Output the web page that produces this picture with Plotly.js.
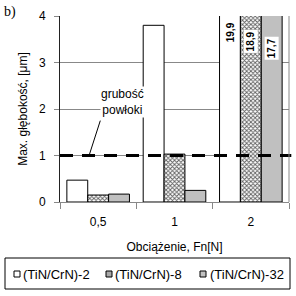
<!DOCTYPE html>
<html><head><meta charset="utf-8">
<script src="https://cdn.plot.ly/plotly-3.0.1.min.js"></script>
<style>html,body{margin:0;padding:0;background:#fff}#c{width:296px;height:296px}</style>
</head><body><div id="c"></div>
<script>
const categories = ['0,5', '1', '2'];
const seriesNames = ['(TiN/CrN)-2', '(TiN/CrN)-8', '(TiN/CrN)-32'];
const s2 = [0.47, 3.8, 19.9];
const s8 = [0.15, 1.03, 18.9];
const s32 = [0.17, 0.25, 17.7];
const clippedLabels = ['19,9', '18,9', '17,7'];
const labelY = [3.65, 3.45, 3.3];
const coatingThickness = 1;

const bargap = 0.18;
const bw = (1 - bargap) / 3;
const F = 'Arial, "Liberation Sans", sans-serif';
const fills = ['#ffffff', '#a8a8a8', '#c0c0c0'];

const mk = (name, y, marker) => ({type:'bar', name, x:categories, y, marker, hoverinfo:'skip', showlegend:false});
const data = [
  mk(seriesNames[0], s2, {color:fills[0], line:{color:'#000', width:1}}),
  mk(seriesNames[1], s8, {color:'#ffffff', line:{color:'#000', width:1},
     pattern:{shape:'x', size:3, solidity:0.5, fgcolor:'#606060', bgcolor:'#ffffff'}}),
  mk(seriesNames[2], s32, {color:fills[2], line:{color:'#000', width:1}})
];

const annotations = clippedLabels.map((t, i) => ({
  xref:'x', yref:'y', x: 2 + (i - 1) * bw, y: labelY[i], text:'<b>' + t + '</b>',
  textangle:-90, showarrow:false, bgcolor: i === 0 ? 'rgba(0,0,0,0)' : '#ffffff',
  font:{family:F, size:10, color:'#000'}, borderpad:1
}));
annotations.push({xref:'paper', yref:'y', x:0.175, y:2.15, text:'grubość<br>powłoki',
  showarrow:false, bgcolor:'#ffffff', font:{family:F, size:12, color:'#000'}, borderpad:0});
annotations.push({xref:'paper', yref:'paper', x:-0.255, y:1.02, xanchor:'left', yanchor:'middle',
  text:'b)', showarrow:false, font:{family:'"Liberation Serif", "Times New Roman", serif', size:14, color:'#000'}});

// custom legend (pixel positions converted to paper coords)
const W = 296, H = 296, ml = 60, mr = 7, mt = 16, mb = 94;
const pw = W - ml - mr, ph = H - mt - mb;
const px = x => (x - ml) / pw;
const py = y => (H - mb - y) / ph;
const legendShapes = [
  {type:'rect', xref:'paper', yref:'paper', x0:px(5), x1:px(290), y0:py(289), y1:py(258),
   line:{color:'#000', width:1}, fillcolor:'rgba(0,0,0,0)'}
];
const symX = [14, 106, 200], txtX = [21, 113, 208];
seriesNames.forEach((n, i) => {
  legendShapes.push({type:'rect', xref:'paper', yref:'paper', x0:px(symX[i]), x1:px(symX[i] + 6),
    y0:py(277), y1:py(271), line:{color:'#000', width:1}, fillcolor:fills[i]});
  annotations.push({xref:'paper', yref:'paper', x:px(txtX[i]), y:py(274), xanchor:'left', yanchor:'middle',
    text:n, showarrow:false, font:{family:F, size:13, color:'#000'}});
});

const layout = {
  width:W, height:H,
  margin:{l:ml, r:mr, t:mt, b:mb, autoexpand:false},
  paper_bgcolor:'#fff', plot_bgcolor:'#fff',
  barmode:'group', bargap:bargap, bargroupgap:0,
  showlegend:false,
  xaxis:{type:'category', tickson:'boundaries', ticks:'outside', ticklen:6, tickcolor:'#888',
    showline:true, linecolor:'#888', linewidth:1, showgrid:false, automargin:false,
    ticklabelstandoff:9,
    tickfont:{family:F, size:12, color:'#000'},
    title:{text:'Obciążenie, Fn[N]', font:{family:F, size:12, color:'#000'}, standoff:14}},
  yaxis:{range:[0,4], dtick:1, ticks:'outside', ticklen:5, tickcolor:'#888', automargin:false,
    ticklabelstandoff:6,
    showline:true, linecolor:'#222', linewidth:1, showgrid:true, gridcolor:'#888', gridwidth:1,
    zeroline:false, tickfont:{family:F, size:12, color:'#000'},
    title:{text:'Max. głębokość, [μm]', font:{family:F, size:12, color:'#000'}, standoff:8}},
  shapes:[
    {type:'line', xref:'paper', yref:'y', x0:0, x1:1.01, y0:coatingThickness, y1:coatingThickness,
     line:{color:'#000', width:3, dash:'13px,9px'}},
    {type:'line', xref:'paper', yref:'y', x0:0.176, x1:0.127, y0:1.75, y1:coatingThickness,
     line:{color:'#000', width:1}},
    {type:'line', xref:'paper', yref:'paper', x0:1, x1:1, y0:0, y1:1, line:{color:'#888', width:1}}
  ].concat(legendShapes),
  annotations
};
Plotly.newPlot('c', data, layout, {staticPlot:true, displayModeBar:false});
</script></body></html>
